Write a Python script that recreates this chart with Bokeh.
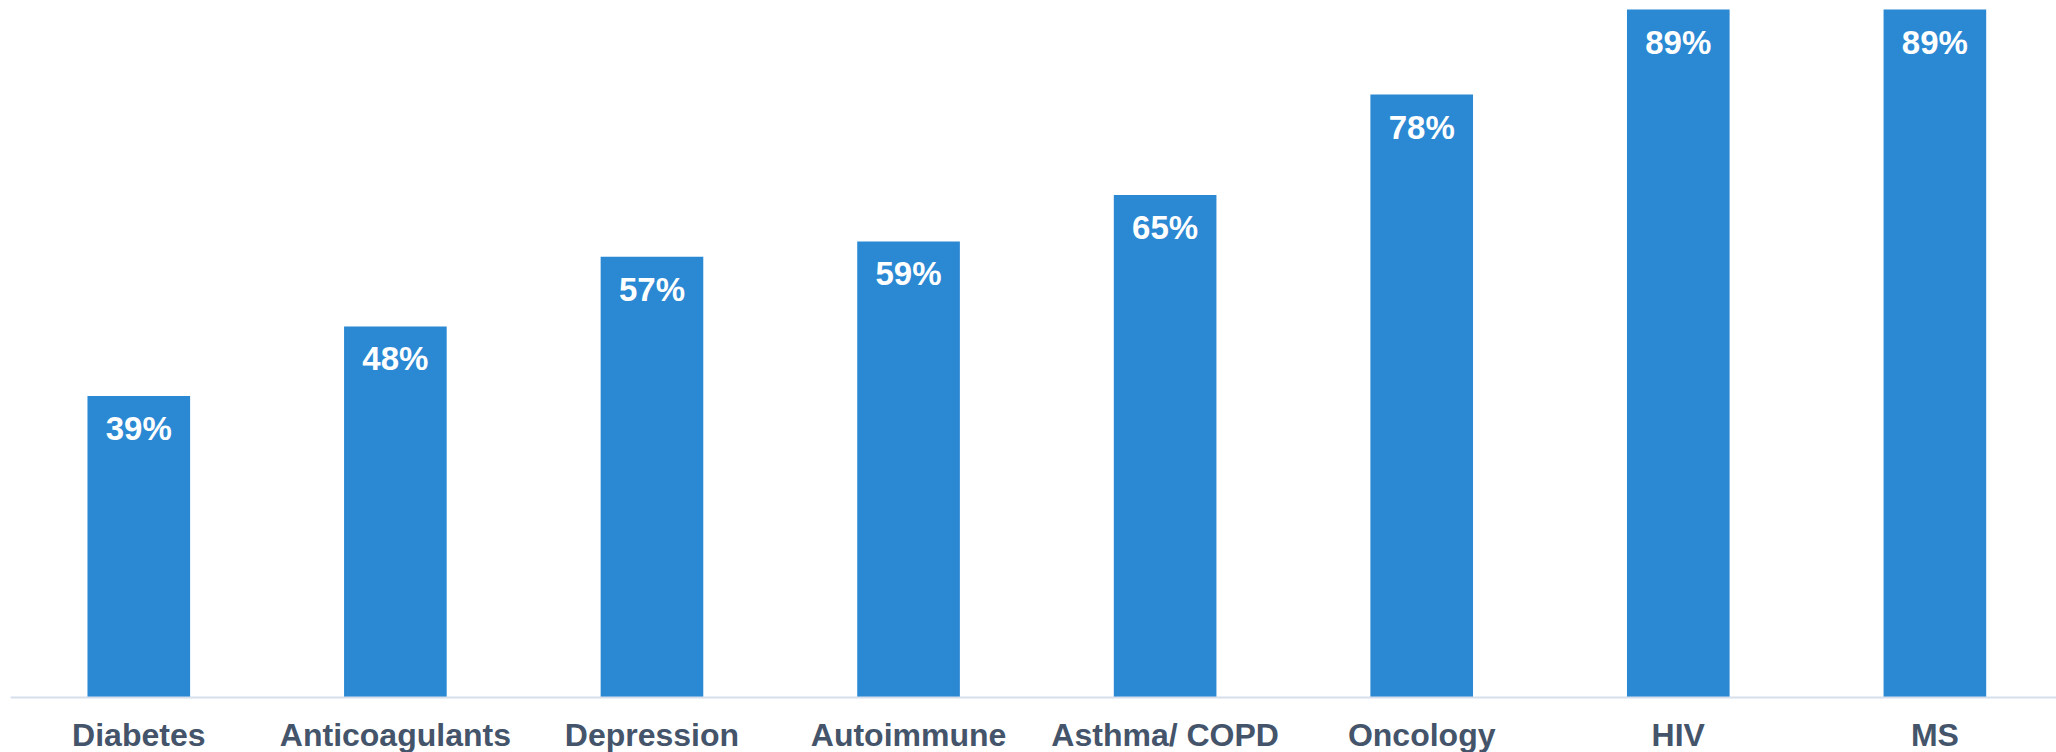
from bokeh.plotting import figure
from bokeh.models import ColumnDataSource, Range1d, Span
from bokeh.core.properties import value
from bokeh.embed import file_html
from bokeh.resources import INLINE

categories = ["Diabetes", "Anticoagulants", "Depression", "Autoimmune",
              "Asthma/ COPD", "Oncology", "HIV", "MS"]
values = [39, 48, 57, 59, 65, 78, 89, 89]
labels = [f"{v}%" for v in values]

xs = [i + 0.5 for i in range(len(categories))]
src = ColumnDataSource(dict(x=xs, top=values, label=labels,
                            cat=categories, zero=[0] * len(categories)))

p = figure(width=2056, height=752, output_backend="svg", toolbar_location=None,
           x_range=Range1d(0, 7.974), y_range=Range1d(-7.115, 89.13),
           min_border_left=10, min_border_right=0, min_border_top=8, min_border_bottom=0)
p.outline_line_color = None
p.background_fill_color = "white"
p.border_fill_color = "white"
p.grid.visible = False
p.xaxis.visible = False
p.yaxis.visible = False

p.vbar(x="x", top="top", bottom=0, width=0.4, source=src,
       fill_color="#2b88d3", line_color=None)
p.text(x="x", y="top", text="label", source=src, text_align="center",
       text_baseline="top", y_offset=14, text_color="white",
       text_font=value("Liberation Sans"), text_font_style="bold",
       text_font_size="33px")

p.add_layout(Span(location=0, dimension="width", line_color="#d6dfeb", line_width=2))

p.text(x="x", y="zero", text="cat", source=src, text_align="center",
       text_baseline="top", y_offset=20, text_color="#44546a",
       text_font=value("Liberation Sans"), text_font_style="bold",
       text_font_size="32px")

open("out.html", "w").write(file_html(p, INLINE))
